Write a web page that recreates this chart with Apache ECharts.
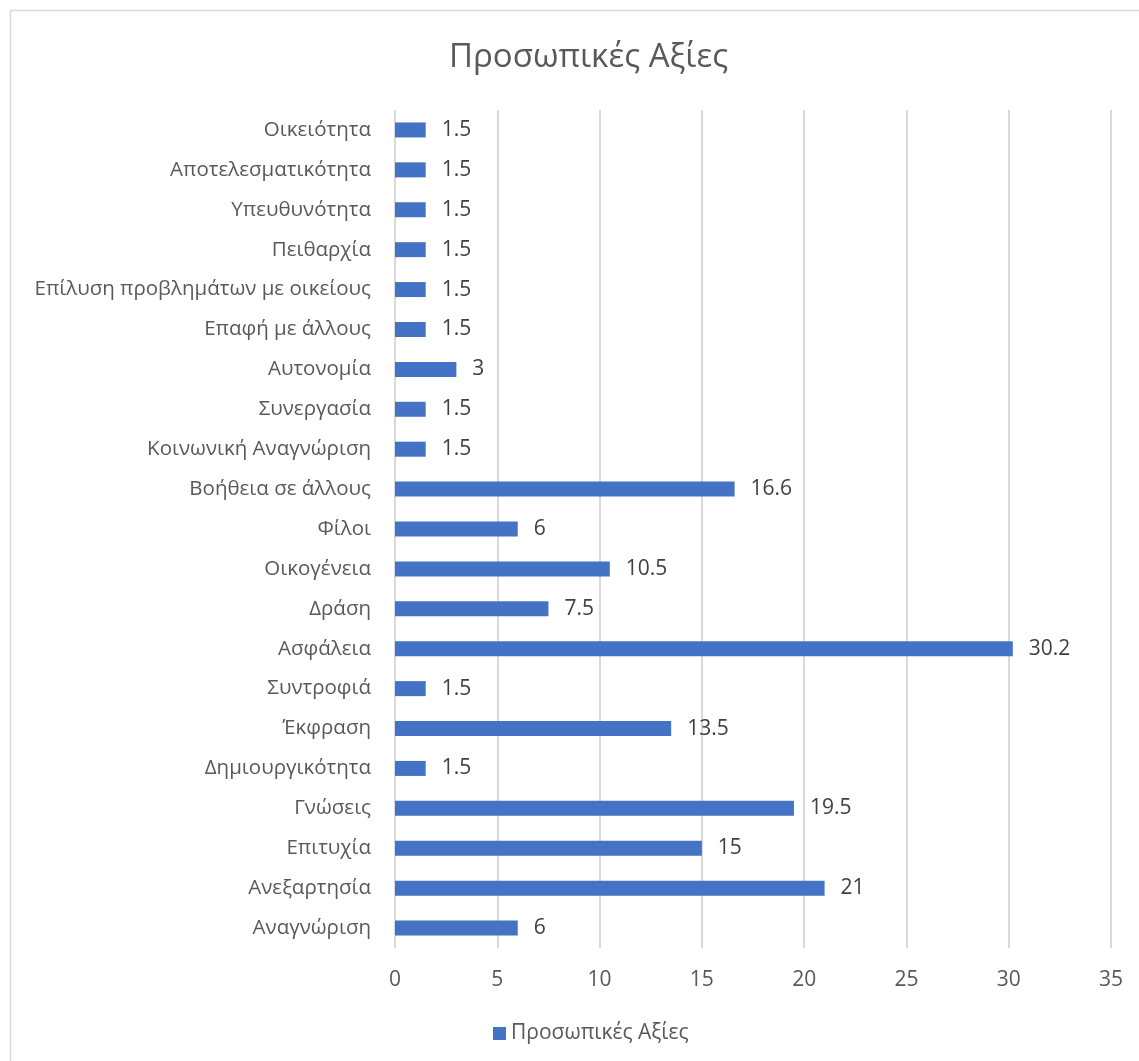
<!DOCTYPE html>
<html>
<head>
<meta charset="utf-8">
<script src="https://cdn.jsdelivr.net/npm/echarts@6/dist/echarts.min.js"></script>
<style>
  html, body { margin: 0; padding: 0; background: #fff; }
  #chart { width: 1139px; height: 1061px; }
</style>
</head>
<body>
<div id="chart"></div>
<script>
// Categories listed top to bottom as they appear on the chart
const categories = [
  'Οικειότητα',
  'Αποτελεσματικότητα',
  'Υπευθυνότητα',
  'Πειθαρχία',
  'Επίλυση προβλημάτων με οικείους',
  'Επαφή με άλλους',
  'Αυτονομία',
  'Συνεργασία',
  'Κοινωνική Αναγνώριση',
  'Βοήθεια σε άλλους',
  'Φίλοι',
  'Οικογένεια',
  'Δράση',
  'Ασφάλεια',
  'Συντροφιά',
  'Έκφραση',
  'Δημιουργικότητα',
  'Γνώσεις',
  'Επιτυχία',
  'Ανεξαρτησία',
  'Αναγνώριση'
];
const values = [1.5, 1.5, 1.5, 1.5, 1.5, 1.5, 3, 1.5, 1.5, 16.6, 6, 10.5, 7.5, 30.2, 1.5, 13.5, 1.5, 19.5, 15, 21, 6];
const seriesName = 'Προσωπικές Αξίες';
const xTicks = { min: 0, max: 35, interval: 5 };

const FONT = '"Open Sans", "Noto Sans", sans-serif';
const chart = echarts.init(document.getElementById('chart'));
chart.setOption({
  animation: false,
  backgroundColor: '#ffffff',
  textStyle: { fontFamily: FONT },
  graphic: [{
    type: 'rect',
    shape: { x: 10.5, y: 10.5, width: 1200, height: 1200 },
    style: { fill: 'none', stroke: '#d9d9d9', lineWidth: 1.5 },
    silent: true, z: -1
  }],
  title: {
    text: seriesName,
    left: 444,
    top: 36,
    textStyle: { fontFamily: FONT, fontSize: 33, fontWeight: 'normal', color: '#595959' }
  },
  legend: {
    bottom: 12,
    left: 488,
    itemWidth: 13,
    itemHeight: 13,
    itemGap: 10,
    icon: 'rect',
    textStyle: { fontFamily: FONT, fontSize: 21, color: '#595959' },
    data: [seriesName]
  },
  grid: { left: 395, right: 28, top: 110, bottom: 113, containLabel: false },
  xAxis: {
    type: 'value',
    min: xTicks.min,
    max: xTicks.max,
    interval: xTicks.interval,
    axisLine: { show: false },
    axisTick: { show: false },
    axisLabel: { margin: 22, fontFamily: FONT, fontSize: 21, color: '#595959' },
    splitLine: { show: true, lineStyle: { color: '#d9d9d9', width: 2 } }
  },
  yAxis: {
    type: 'category',
    inverse: true,
    data: categories,
    axisLine: { show: false },
    axisTick: { show: false },
    axisLabel: { margin: 24, fontFamily: FONT, fontSize: 20.5, color: '#595959' }
  },
  series: [{
    name: seriesName,
    type: 'bar',
    data: values,
    barWidth: 15,
    itemStyle: { color: '#4472C4' },
    label: {
      show: true,
      position: 'right',
      distance: 16,
      fontFamily: FONT,
      fontSize: 21,
      color: '#404040'
    }
  }]
});
</script>
</body>
</html>
